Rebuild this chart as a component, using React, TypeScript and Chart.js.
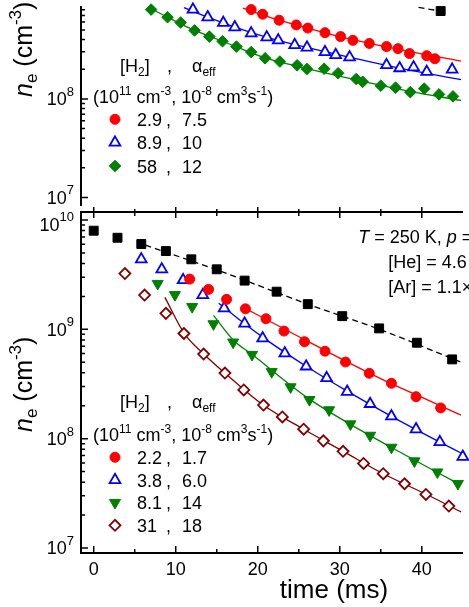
import React, { useEffect, useRef } from 'react';
import { Chart, registerables } from 'chart.js';

Chart.register(...registerables);

const FONT = "'Liberation Sans', Arial, sans-serif";
const RED = '#ff0000';
const BLUE = '#0000ff';
const GREEN = '#008000';
const MAROON = '#800000';
const BLACK = '#000000';
const BOTTOM_TOP = 200; // page y of the lower canvas

// ---------- shared time axis (ms) ----------
const timeMin = -1.55;
const timeMax = 44.78;
const timeMajorTicks = [0, 10, 20, 30, 40];
const timeMinorTicks = [5, 15, 25, 35];

// ---------- upper panel ----------
const topNeMin = Math.pow(10, 6.9344);
const topNeMax = Math.pow(10, 8.9213);
const topMajorTicks = [1e7, 1e8];
const topMinorTicks = [2e7, 3e7, 4e7, 5e7, 6e7, 7e7, 8e7, 9e7, 2e8, 3e8, 4e8, 5e8, 6e8, 7e8, 8e8];

const topRedTime = [19.2, 20.6, 22.6, 24.7, 26.1, 28.2, 30.1, 31.6, 33.6, 35.7, 37.1, 38.5, 40.6, 41.6];
const topRedNe = [8.04e8, 7.21e8, 6.27e8, 5.62e8, 5.22e8, 4.69e8, 4.28e8, 3.92e8, 3.65e8, 3.39e8, 3.23e8, 2.88e8, 2.74e8, 2.55e8];
const topBlueTime = [12.1, 13.9, 15.8, 17.2, 19.2, 21.1, 22.5, 24.5, 26.0, 28.2, 29.5, 31.2, 35.7, 37.3, 39.0, 40.6, 43.7];
const topBlueNe = [8.04e8, 6.73e8, 5.9e8, 5.33e8, 4.62e8, 4.21e8, 3.92e8, 3.52e8, 3.32e8, 2.98e8, 2.79e8, 2.64e8, 2.2e8, 2.05e8, 2.09e8, 1.88e8, 1.98e8];
const topGreenTime = [7.0, 9.0, 10.6, 12.3, 14.1, 15.7, 17.4, 19.2, 20.9, 22.7, 24.8, 26.0, 28.1, 29.8, 32.0, 32.8, 35.0, 36.8, 38.6, 40.3, 42.1, 43.8];
const topGreenNe = [8.04e8, 6.73e8, 5.94e8, 4.94e8, 4.28e8, 3.84e8, 3.39e8, 2.98e8, 2.58e8, 2.39e8, 2.19e8, 2.01e8, 2.02e8, 1.82e8, 1.59e8, 1.49e8, 1.36e8, 1.3e8, 1.17e8, 1.27e8, 1.11e8, 1.06e8];
const topBlackTime = [42.3];
const topBlackNe = [7.77e8];

const topRedFitTime = [18.2, 22.6, 26.1, 30.1, 35.7, 40.6, 44.78];
const topRedFitNe = [8.3e8, 6.27e8, 5.2e8, 4.25e8, 3.37e8, 2.8e8, 2.42e8];
const topBlueFitTime = [11.0, 13.9, 17.2, 21.1, 26.0, 31.2, 37.25, 44.78];
const topBlueFitNe = [8.4e8, 6.73e8, 5.33e8, 4.21e8, 3.32e8, 2.64e8, 2.05e8, 1.57e8];
const topGreenFitTime = [6.7, 9.0, 12.3, 15.7, 20.9, 26.0, 32.0, 38.6, 44.78];
const topGreenFitNe = [8.45e8, 6.73e8, 4.94e8, 3.84e8, 2.6e8, 2.03e8, 1.56e8, 1.19e8, 9.64e7];
const topBlackFitTime = [39.6, 42.3];
const topBlackFitNe = [8.45e8, 7.77e8];

const topLegendH2 = ['2.9', '8.9', '58'];
const topLegendAlpha = ['7.5', '10', '12'];

// ---------- lower panel ----------
const botNeMin = Math.pow(10, 6.9543);
const botNeMax = Math.pow(10, 10.0732);
const botMajorTicks = [1e7, 1e8, 1e9, 1e10];
const botMinorTicks = [
  2e7, 3e7, 4e7, 5e7, 6e7, 7e7, 8e7, 9e7,
  2e8, 3e8, 4e8, 5e8, 6e8, 7e8, 8e8, 9e8,
  2e9, 3e9, 4e9, 5e9, 6e9, 7e9, 8e9, 9e9,
];

const botBlackTime = [0, 2.9, 5.8, 8.8, 11.9, 15.0, 18.4, 22.3, 26.1, 30.3, 34.8, 39.4, 43.7];
const botBlackNe = [7.98e9, 6.88e9, 6.03e9, 5.2e9, 4.37e9, 3.54e9, 2.79e9, 2.21e9, 1.7e9, 1.32e9, 1.02e9, 7.54e8, 5.31e8];
const botRedTime = [11.7, 14.0, 16.2, 18.5, 21.0, 23.2, 25.7, 28.2, 30.7, 33.6, 36.3, 39.3, 42.3];
const botRedNe = [2.88e9, 2.32e9, 1.88e9, 1.54e9, 1.25e9, 9.64e8, 7.7e8, 6.31e8, 5.02e8, 3.96e8, 3.21e8, 2.42e8, 1.91e8];
const botBlueTime = [5.8, 8.3, 10.9, 13.3, 15.9, 18.4, 20.6, 23.3, 25.9, 28.4, 30.9, 33.7, 36.3, 39.3, 42.2, 45.0];
const botBlueNe = [4.37e9, 3.54e9, 2.82e9, 2.06e9, 1.56e9, 1.13e9, 8.28e8, 6.03e8, 4.58e8, 3.58e8, 2.69e8, 2.08e8, 1.6e8, 1.22e8, 9.31e7, 6.83e7];
const botGreenTime = [7.8, 9.9, 12.0, 14.6, 17.0, 19.3, 21.7, 24.0, 26.3, 28.7, 31.3, 33.7, 36.3, 39.1, 41.9, 44.4];
const botGreenNe = [2.62e9, 2.07e9, 1.61e9, 1.12e9, 7.62e8, 5.87e8, 4.09e8, 2.97e8, 2.27e8, 1.83e8, 1.36e8, 1.07e8, 8.32e7, 6.24e7, 4.94e7, 3.88e7];
const botMaroonTime = [3.8, 6.2, 8.8, 11.0, 13.4, 16.0, 18.3, 20.7, 23.0, 25.6, 28.0, 30.4, 32.9, 35.3, 37.9, 40.5, 43.3];
const botMaroonNe = [3.24e9, 2.06e9, 1.4e9, 9.16e8, 5.94e8, 3.98e8, 2.79e8, 2.03e8, 1.58e8, 1.22e8, 9.55e7, 7.67e7, 5.94e7, 4.78e7, 3.87e7, 3.09e7, 2.42e7];

const botBlackFitTime = [6.3, 15.0, 26.1, 35.0, 44.78];
const botBlackFitNe = [5.9e9, 3.5e9, 1.7e9, 9.9e8, 5.0e8];
const botRedFitTime = [18.0, 24.0, 30.0, 36.0, 40.5, 44.78];
const botRedFitNe = [1.62e9, 9.4e8, 5.45e8, 3.25e8, 2.3e8, 1.64e8];
const botBlueFitTime = [15.25, 18.35, 21.5, 25.9, 30.9, 36.3, 42.2, 44.78];
const botBlueFitNe = [1.73e9, 1.13e9, 7.6e8, 4.6e8, 2.72e8, 1.6e8, 9.3e7, 7.4e7];
const botGreenFitTime = [14.6, 17.0, 19.5, 22.0, 26.3, 31.3, 36.3, 41.9, 44.78];
const botGreenFitNe = [1.34e9, 8.0e8, 5.75e8, 4.05e8, 2.3e8, 1.35e8, 8.3e7, 4.9e7, 3.77e7];
const botMaroonFitTime = [8.68, 11.04, 13.41, 16.0, 20.66, 25.59, 30.37, 35.25, 40.54, 44.78];
const botMaroonFitNe = [1.96e9, 9.2e8, 5.95e8, 3.98e8, 2.03e8, 1.22e8, 7.7e7, 4.8e7, 3.1e7, 2.14e7];

const botLegendH2 = ['2.2', '3.8', '8.1', '31'];
const botLegendAlpha = ['1.7', '6.0', '14', '18'];

// ---------- marker styles ----------
const stRed = { style: 'circle', r: 5, fill: RED, stroke: RED, lw: 1 };
const stBlue = { style: 'triangle', r: 6.2, fill: '#ffffff', stroke: BLUE, lw: 1.8 };
const stGreenDown = { style: 'triangleDown', r: 6.4, fill: GREEN, stroke: GREEN, lw: 1 };
const stGreenDiamond = { style: 'rectRot', r: 5.8, fill: GREEN, stroke: GREEN, lw: 1 };
const stMaroon = { style: 'rectRot', r: 5.5, fill: '#ffffff', stroke: MAROON, lw: 1.8 };
const stBlack = { style: 'rect', r: 6.3, fill: BLACK, stroke: BLACK, lw: 1 };

// ---------- helpers ----------
type Seg = { t: string; s: number; dy?: number; it?: boolean };

function fontOf(g: Seg) {
  return `${g.it ? 'italic ' : ''}${g.s}px ${FONT}`;
}

function rich(ctx: CanvasRenderingContext2D, x: number, y: number, segs: Seg[], align = 'left') {
  const ws = segs.map((g) => {
    ctx.font = fontOf(g);
    return ctx.measureText(g.t).width;
  });
  const total = ws.reduce((p, c) => p + c, 0);
  let cx = align === 'left' ? x : align === 'right' ? x - total : x - total / 2;
  ctx.textAlign = 'left';
  ctx.textBaseline = 'alphabetic';
  segs.forEach((g, i) => {
    ctx.font = fontOf(g);
    ctx.fillText(g.t, cx, y + (g.dy || 0));
    cx += ws[i];
  });
  return total;
}

function drawMarker(ctx: CanvasRenderingContext2D, st: any, x: number, y: number) {
  const r = st.r;
  ctx.beginPath();
  if (st.style === 'circle') {
    ctx.arc(x, y, r, 0, Math.PI * 2);
  } else if (st.style === 'rect') {
    const s = r * Math.SQRT1_2;
    ctx.rect(x - s, y - s, 2 * s, 2 * s);
  } else if (st.style === 'rectRot') {
    ctx.moveTo(x - r, y);
    ctx.lineTo(x, y - r);
    ctx.lineTo(x + r, y);
    ctx.lineTo(x, y + r);
    ctx.closePath();
  } else {
    const sign = st.style === 'triangleDown' ? -1 : 1;
    for (let k = 0; k < 3; k++) {
      const ang = (k * 2 * Math.PI) / 3;
      const px = x + Math.sin(ang) * r;
      const py = y - sign * Math.cos(ang) * r;
      if (k === 0) ctx.moveTo(px, py);
      else ctx.lineTo(px, py);
    }
    ctx.closePath();
  }
  ctx.fillStyle = st.fill;
  ctx.fill();
  ctx.lineWidth = st.lw;
  ctx.strokeStyle = st.stroke;
  ctx.stroke();
  ctx.fillStyle = BLACK;
  ctx.strokeStyle = BLACK;
}

function pts(t: number[], n: number[]) {
  return t.map((x, i) => ({ x, y: n[i] }));
}

function markerSet(t: number[], n: number[], st: any) {
  const down = st.style === 'triangleDown';
  return {
    data: pts(t, n),
    showLine: false,
    pointStyle: down ? 'triangle' : st.style,
    pointRotation: down ? 180 : 0,
    pointRadius: st.r,
    pointHoverRadius: st.r,
    pointBackgroundColor: st.fill,
    pointBorderColor: st.stroke,
    pointBorderWidth: st.lw,
    clip: false,
  };
}

function fitSet(t: number[], n: number[], color: string, dash: number[] = []) {
  return {
    data: pts(t, n),
    showLine: true,
    borderColor: color,
    borderWidth: 1.3,
    borderDash: dash,
    pointRadius: 0,
    pointHoverRadius: 0,
    cubicInterpolationMode: 'monotone',
    fill: false,
    clip: false,
  };
}

function drawLeftAxis(ctx: CanvasRenderingContext2D, a: any, ys: any, majors: number[], minors: number[]) {
  ctx.strokeStyle = BLACK;
  ctx.fillStyle = BLACK;
  ctx.lineWidth = 1.5;
  const inside = (py: number) => py >= a.top - 0.5 && py <= a.bottom + 0.5;
  ctx.beginPath();
  majors.forEach((v) => {
    const py = ys.getPixelForValue(v);
    if (!inside(py)) return;
    ctx.moveTo(a.left, py);
    ctx.lineTo(a.left + 7, py);
  });
  minors.forEach((v) => {
    const py = ys.getPixelForValue(v);
    if (!inside(py)) return;
    ctx.moveTo(a.left, py);
    ctx.lineTo(a.left + 4, py);
  });
  ctx.stroke();
  majors.forEach((v) => {
    const py = ys.getPixelForValue(v);
    if (!inside(py)) return;
    const e = Math.round(Math.log10(v));
    // the label at the very top of a panel sits a little lower, as in the original
    const shift = py - a.top < 12 ? 4.5 : 0;
    rich(ctx, 74, py + 6.4 + shift, [{ t: '10', s: 18 }, { t: String(e), s: 13, dy: -9.5 }], 'right');
  });
}

function drawYTitle(ctx: CanvasRenderingContext2D, x: number, yStart: number) {
  ctx.save();
  ctx.translate(x, yStart);
  ctx.rotate(-Math.PI / 2);
  rich(ctx, 0, 0, [
    { t: 'n', s: 25, it: true },
    { t: 'e', s: 17, dy: 5 },
    { t: ' (cm', s: 25 },
    { t: '-3', s: 17, dy: -11 },
    { t: ')', s: 25 },
  ]);
  ctx.restore();
}

function drawLegend(
  ctx: CanvasRenderingContext2D,
  off: number,
  headerBase: number,
  line2Base: number,
  rowBases: number[],
  styles: any[],
  col1: string[],
  col2: string[]
) {
  ctx.fillStyle = BLACK;
  rich(ctx, 120, headerBase - off, [{ t: '[H', s: 18 }, { t: '2', s: 12, dy: 4 }, { t: ']', s: 18 }]);
  rich(ctx, 167, headerBase - off, [{ t: ',', s: 18 }]);
  rich(ctx, 192, headerBase - off, [{ t: 'α', s: 18 }, { t: 'eff', s: 12, dy: 4 }]);
  rich(ctx, 93, line2Base - off, [
    { t: '(10', s: 18 },
    { t: '11', s: 12, dy: -8 },
    { t: ' cm', s: 18 },
    { t: '-3', s: 12, dy: -8 },
    { t: ', 10', s: 18 },
    { t: '-8', s: 12, dy: -8 },
    { t: ' cm', s: 18 },
    { t: '3', s: 12, dy: -8 },
    { t: 's', s: 18 },
    { t: '-1', s: 12, dy: -8 },
    { t: ')', s: 18 },
  ]);
  rowBases.forEach((b, i) => {
    drawMarker(ctx, styles[i], 115, b - off - 6.7);
    rich(ctx, 137, b - off, [{ t: col1[i], s: 18 }]);
    rich(ctx, 166, b - off, [{ t: ',', s: 18 }]);
    rich(ctx, 182, b - off, [{ t: col2[i], s: 18 }]);
  });
}

// ---------- plugins ----------
const topPanelPlugin = {
  id: 'topPanelDecor',
  afterDraw(chart: any) {
    const ctx = chart.ctx as CanvasRenderingContext2D;
    const a = chart.chartArea;
    ctx.save();
    ctx.strokeStyle = BLACK;
    ctx.lineWidth = 2;
    ctx.beginPath();
    ctx.moveTo(a.left, a.top - 2);
    ctx.lineTo(a.left, a.bottom + 2);
    ctx.stroke();
    drawLeftAxis(ctx, a, chart.scales.y, topMajorTicks, topMinorTicks);
    drawYTitle(ctx, 32, 97);
    drawLegend(ctx, 0, 72, 103.2, [126, 149.3, 172.7], [stRed, stBlue, stGreenDiamond], topLegendH2, topLegendAlpha);
    ctx.restore();
  },
};

const bottomPanelPlugin = {
  id: 'bottomPanelDecor',
  afterDraw(chart: any) {
    const ctx = chart.ctx as CanvasRenderingContext2D;
    const a = chart.chartArea;
    const xs = chart.scales.x;
    const off = BOTTOM_TOP;
    ctx.save();
    ctx.strokeStyle = BLACK;
    ctx.lineJoin = 'miter';
    ctx.lineWidth = 2;
    ctx.beginPath();
    ctx.moveTo(a.right + 2, a.top);
    ctx.lineTo(a.left, a.top);
    ctx.lineTo(a.left, a.bottom);
    ctx.lineTo(a.right + 2, a.bottom);
    ctx.stroke();
    // time ticks (bottom edge inward, shared boundary both ways)
    ctx.lineWidth = 1.5;
    ctx.beginPath();
    timeMajorTicks.forEach((v) => {
      const px = xs.getPixelForValue(v);
      ctx.moveTo(px, a.bottom);
      ctx.lineTo(px, a.bottom - 7);
      ctx.moveTo(px, a.top - 5);
      ctx.lineTo(px, a.top + 6);
    });
    timeMinorTicks.forEach((v) => {
      const px = xs.getPixelForValue(v);
      ctx.moveTo(px, a.bottom);
      ctx.lineTo(px, a.bottom - 4);
      ctx.moveTo(px, a.top - 3);
      ctx.lineTo(px, a.top + 4);
    });
    ctx.stroke();
    drawLeftAxis(ctx, a, chart.scales.y, botMajorTicks, botMinorTicks);
    drawYTitle(ctx, 32, 432 - off);
    ctx.fillStyle = BLACK;
    rich(ctx, 334, 598 - off, [{ t: 'time (ms)', s: 26 }], 'center');
    rich(ctx, 358.3, 242.7 - off, [
      { t: 'T', s: 18, it: true },
      { t: ' = 250 K, ', s: 18 },
      { t: 'p', s: 18, it: true },
      { t: ' =', s: 18 },
    ]);
    rich(ctx, 388.3, 267.5 - off, [{ t: '[He] = 4.6', s: 18 }]);
    rich(ctx, 388.3, 292.6 - off, [{ t: '[Ar] = 1.1×', s: 18 }]);
    drawLegend(ctx, off, 408, 441, [464, 486.7, 509.3, 532], [stRed, stBlue, stGreenDown, stMaroon], botLegendH2, botLegendAlpha);
    ctx.restore();
  },
};

function topConfig(): any {
  return {
    type: 'scatter',
    data: {
      datasets: [
        markerSet(topRedTime, topRedNe, stRed),
        markerSet(topBlueTime, topBlueNe, stBlue),
        markerSet(topGreenTime, topGreenNe, stGreenDiamond),
        markerSet(topBlackTime, topBlackNe, stBlack),
        fitSet(topRedFitTime, topRedFitNe, RED),
        fitSet(topBlueFitTime, topBlueFitNe, BLUE),
        fitSet(topGreenFitTime, topGreenFitNe, GREEN),
        fitSet(topBlackFitTime, topBlackFitNe, BLACK, [6, 4]),
      ],
    },
    options: {
      responsive: false,
      animation: false,
      events: [],
      layout: { padding: { left: 81, right: 0, top: 0, bottom: 0 } },
      plugins: { legend: { display: false }, tooltip: { enabled: false } },
      scales: {
        x: { type: 'linear', display: false, min: timeMin, max: timeMax },
        y: { type: 'logarithmic', display: false, min: topNeMin, max: topNeMax },
      },
    },
    plugins: [topPanelPlugin],
  };
}

function bottomConfig(): any {
  return {
    type: 'scatter',
    data: {
      datasets: [
        markerSet(botRedTime, botRedNe, stRed),
        markerSet(botBlueTime, botBlueNe, stBlue),
        markerSet(botGreenTime, botGreenNe, stGreenDown),
        markerSet(botMaroonTime, botMaroonNe, stMaroon),
        markerSet(botBlackTime, botBlackNe, stBlack),
        fitSet(botRedFitTime, botRedFitNe, RED),
        fitSet(botBlueFitTime, botBlueFitNe, BLUE),
        fitSet(botGreenFitTime, botGreenFitNe, GREEN),
        fitSet(botMaroonFitTime, botMaroonFitNe, MAROON),
        fitSet(botBlackFitTime, botBlackFitNe, BLACK, [6, 4]),
      ],
    },
    options: {
      responsive: false,
      animation: false,
      events: [],
      layout: { padding: { left: 81, right: 0, top: 12, bottom: 0 } },
      plugins: { legend: { display: false }, tooltip: { enabled: false } },
      scales: {
        x: {
          type: 'linear',
          position: 'bottom',
          min: timeMin,
          max: timeMax,
          grid: { display: false, drawTicks: false },
          border: { display: false },
          ticks: {
            color: BLACK,
            font: { family: FONT, size: 18 },
            padding: 6,
            autoSkip: false,
            maxRotation: 0,
            minRotation: 0,
          },
          afterBuildTicks: (s: any) => {
            s.ticks = timeMajorTicks.map((v) => ({ value: v }));
          },
          afterFit: (s: any) => {
            s.height = 54;
          },
        },
        y: { type: 'logarithmic', display: false, min: botNeMin, max: botNeMax },
      },
    },
    plugins: [bottomPanelPlugin],
  };
}

export default function App() {
  const topRef = useRef<HTMLCanvasElement>(null);
  const botRef = useRef<HTMLCanvasElement>(null);

  useEffect(() => {
    const c1 = new Chart(topRef.current as HTMLCanvasElement, topConfig());
    const c2 = new Chart(botRef.current as HTMLCanvasElement, bottomConfig());
    return () => {
      c1.destroy();
      c2.destroy();
    };
  }, []);

  return (
    <div style={{ position: 'fixed', left: 0, top: 0, width: 469, height: 607, overflow: 'hidden', background: '#ffffff' }}>
      <canvas ref={topRef} width={469} height={212} style={{ position: 'absolute', left: 0, top: 0, display: 'block' }} />
      <canvas ref={botRef} width={469} height={407} style={{ position: 'absolute', left: 0, top: BOTTOM_TOP, display: 'block' }} />
    </div>
  );
}
